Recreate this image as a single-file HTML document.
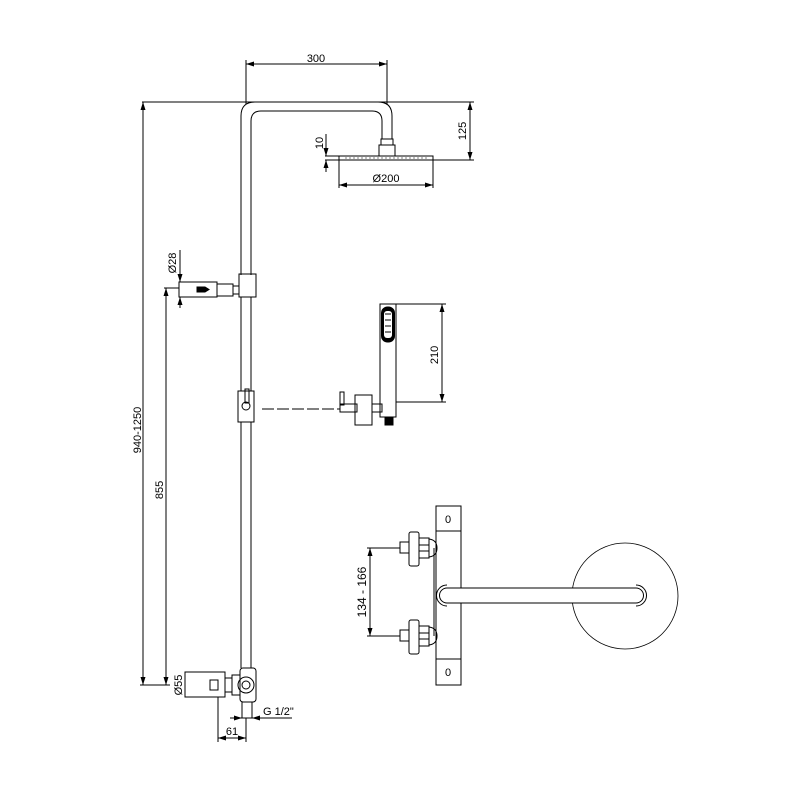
<!DOCTYPE html>
<html><head><style>body{margin:0;background:#fff}svg{display:block}</style></head><body>
<svg width="800" height="800" viewBox="0 0 800 800" xmlns="http://www.w3.org/2000/svg" font-family="Liberation Sans, sans-serif" font-size="11" fill="none" stroke="#000" stroke-width="1">
<defs><marker id="a" markerWidth="8" markerHeight="6" refX="8" refY="3" orient="auto-start-reverse"><path d="M0,0.5 L8,3 L0,5.5" fill="#000" stroke="none"/></marker></defs>
<!-- top dims -->
<line x1="246" y1="64" x2="387" y2="64" marker-start="url(#a)" marker-end="url(#a)"/>
<line x1="246" y1="60" x2="246" y2="104"/><line x1="387" y1="60" x2="387" y2="104"/>
<text x="316" y="62" fill="#000" stroke="none" text-anchor="middle">300</text>
<line x1="142" y1="102" x2="474" y2="102"/>
<line x1="470" y1="102" x2="470" y2="160" marker-start="url(#a)" marker-end="url(#a)"/>
<line x1="433" y1="160" x2="474" y2="160"/>
<text transform="translate(466,131) rotate(-90)" fill="#000" stroke="none" text-anchor="middle">125</text>
<!-- pipe -->
<path d="M241,275 V116 Q241,102 255,102 H378 Q392,102 392,116 V139"/>
<path d="M251,275 V121 Q251,111 261,111 H372 Q382,111 382,121 V139"/>
<rect x="381" y="139" width="12" height="6"/>
<rect x="379" y="145" width="16" height="11"/>
<rect x="339" y="156" width="94" height="4"/>
<line x1="345" y1="158" x2="428" y2="158" stroke-dasharray="2,2" stroke-width="0.5"/>
<line x1="325" y1="156" x2="339" y2="156"/><line x1="325" y1="160" x2="339" y2="160"/>
<line x1="326" y1="134" x2="326" y2="156" marker-end="url(#a)"/><line x1="326" y1="172" x2="326" y2="160" marker-end="url(#a)"/>
<text transform="translate(323,143) rotate(-90)" fill="#000" stroke="none" text-anchor="middle">10</text>
<line x1="339" y1="160" x2="339" y2="188"/><line x1="433" y1="160" x2="433" y2="188"/>
<line x1="339" y1="185" x2="433" y2="185" marker-start="url(#a)" marker-end="url(#a)"/>
<text x="386" y="182" fill="#000" stroke="none" text-anchor="middle">Ø200</text>
<!-- slider top / bracket -->
<rect x="239" y="274" width="17" height="23"/>
<line x1="241" y1="297" x2="241" y2="391"/><line x1="251" y1="297" x2="251" y2="391"/>
<rect x="179" y="282" width="38" height="15"/>
<rect x="217" y="284" width="16" height="12"/>
<rect x="233" y="286" width="6" height="8"/>
<path d="M197,287 h8 l4,2.5 l-4,2.5 h-8z" fill="#000"/>
<line x1="180" y1="250" x2="180" y2="282" marker-end="url(#a)"/><line x1="180" y1="308" x2="180" y2="297" marker-end="url(#a)"/>
<text transform="translate(176,263) rotate(-90)" fill="#000" stroke="none" text-anchor="middle">Ø28</text>
<line x1="164" y1="288" x2="179" y2="288"/>
<line x1="166" y1="288" x2="166" y2="685" marker-start="url(#a)" marker-end="url(#a)"/>
<text transform="translate(163,490) rotate(-90)" fill="#000" stroke="none" text-anchor="middle">855</text>
<line x1="143" y1="102" x2="143" y2="685" marker-start="url(#a)" marker-end="url(#a)"/>
<line x1="140" y1="685" x2="170" y2="685"/>
<text transform="translate(141,430) rotate(-90)" fill="#000" stroke="none" text-anchor="middle">940-1250</text>
<!-- slider 2 -->
<rect x="238" y="391" width="16" height="31"/>
<rect x="245" y="389" width="4" height="14"/>
<circle cx="246" cy="406" r="4"/>
<line x1="241" y1="422" x2="241" y2="668"/><line x1="251" y1="422" x2="251" y2="668"/>
<line x1="262" y1="409" x2="340" y2="409" stroke-dasharray="12,3"/>
<rect x="340" y="392" width="4" height="13"/>
<rect x="340" y="404" width="17" height="8"/>
<rect x="355" y="395" width="17" height="30"/>
<rect x="372" y="404" width="10" height="8"/>
<rect x="380" y="304" width="16" height="113"/>
<rect x="381.5" y="307" width="13" height="35" rx="6" fill="#000"/>
<rect x="384" y="311" width="8" height="27" rx="3" fill="#fff" stroke="none"/>
<line x1="385" y1="314" x2="391" y2="314"/><line x1="385" y1="320" x2="391" y2="320"/><line x1="385" y1="326" x2="391" y2="326"/><line x1="385" y1="332" x2="391" y2="332"/>
<rect x="385" y="417" width="8" height="8" fill="#000"/>
<line x1="396" y1="304" x2="446" y2="304"/><line x1="396" y1="402" x2="446" y2="402"/>
<line x1="442" y1="304" x2="442" y2="402" marker-start="url(#a)" marker-end="url(#a)"/>
<text transform="translate(438,355) rotate(-90)" fill="#000" stroke="none" text-anchor="middle">210</text>
<!-- bottom valve -->
<rect x="185" y="672" width="40" height="25"/>
<rect x="210" y="680" width="8" height="10"/>
<rect x="225" y="678" width="7" height="14"/>
<rect x="232" y="675" width="8" height="20"/>
<rect x="240" y="668" width="16" height="34" rx="3"/>
<circle cx="246" cy="685" r="8"/><circle cx="246" cy="685" r="4"/>
<rect x="242" y="702" width="10" height="16"/>
<text transform="translate(182,685) rotate(-90)" fill="#000" stroke="none" text-anchor="middle">Ø55</text>
<line x1="230" y1="718" x2="242" y2="718" marker-end="url(#a)"/><line x1="292" y1="718" x2="252" y2="718" marker-end="url(#a)"/>
<text x="263" y="715" fill="#000" stroke="none">G 1/2"</text>
<line x1="218" y1="697" x2="218" y2="742"/><line x1="246" y1="718" x2="246" y2="742"/>
<line x1="218" y1="738" x2="246" y2="738" marker-start="url(#a)" marker-end="url(#a)"/>
<text x="232" y="735" fill="#000" stroke="none" text-anchor="middle">61</text>
<!-- wall mixer view -->
<rect x="436" y="506" width="25" height="179"/>
<line x1="436" y1="531" x2="461" y2="531"/><line x1="436" y1="659" x2="461" y2="659"/>
<text x="448" y="523" fill="#000" stroke="none" text-anchor="middle">0</text>
<text x="448" y="676" fill="#000" stroke="none" text-anchor="middle">0</text>
<line x1="434" y1="548" x2="434" y2="636"/>
<g id="v"><rect x="400" y="542" width="9" height="11"/><rect x="409" y="532" width="10" height="34" rx="2"/><rect x="419" y="538" width="10" height="20"/><line x1="419" y1="545" x2="429" y2="545"/><line x1="419" y1="551" x2="429" y2="551"/><path d="M429,539 Q437,540 437,548 Q437,556 429,557"/></g>
<use href="#v" transform="translate(0,88)"/>
<line x1="367" y1="548" x2="400" y2="548"/><line x1="367" y1="636" x2="400" y2="636"/>
<line x1="370" y1="548" x2="370" y2="636" marker-start="url(#a)" marker-end="url(#a)"/>
<text transform="translate(366,592) rotate(-90)" fill="#000" stroke="none" text-anchor="middle" font-size="12">134 - 166</text>
<circle cx="625" cy="596" r="53" stroke-width="0.8"/>
<path d="M447,588 H636 A7.5,7.5 0 0 1 636,603 H447 A7.5,7.5 0 0 1 447,588 Z" fill="#fff"/>
<path d="M447,585 A10,10 0 0 0 447,606" /><path d="M636,585 A10,10 0 0 1 636,606"/>
</svg>
</body></html>
